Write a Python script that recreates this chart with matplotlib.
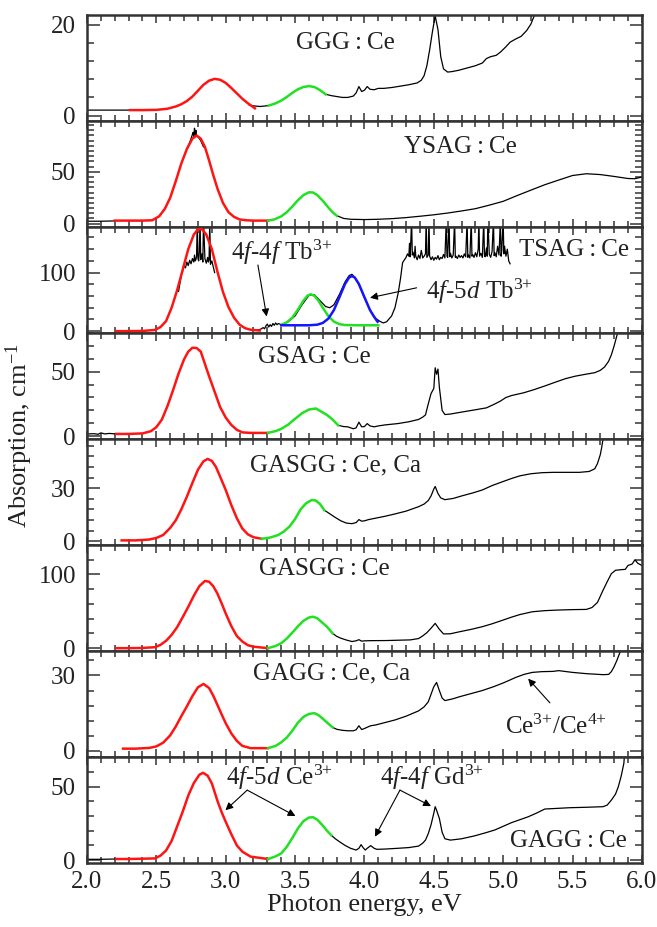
import numpy as np
import matplotlib
matplotlib.use("Agg")
import matplotlib.pyplot as plt
from matplotlib.ticker import FixedLocator, MultipleLocator

nan = np.nan

# ---- GGG:Ce ----
ggg_black_x = [2.01, 2.10, 2.20, 2.31, nan, 3.17, 3.21, 3.25, 3.31, nan,
               3.72, 3.76, 3.80, 3.84, 3.88, 3.92, 3.94, 3.96, 3.98, 4.00, 4.02, 4.04, 4.07, 4.10,
               4.14, 4.20, 4.26, 4.32, 4.38, 4.41, 4.43, 4.45, 4.47, 4.49, 4.51, 4.53, 4.55, 4.57,
               4.60, 4.63, 4.68, 4.74, 4.80, 4.85, 4.88, 4.91, 4.95, 4.98, 5.02, 5.05, 5.09, 5.13,
               5.17, 5.20, 5.23]
ggg_black_y = [1.2, 1.2, 1.2, 1.2, nan, 2.3, 2.1, 2.0, 2.2, nan,
               4.7, 4.4, 4.2, 4.0, 4.0, 4.3, 5.0, 6.4, 5.3, 5.6, 6.4, 5.8, 5.7, 6.0,
               6.0, 6.2, 6.5, 6.8, 7.2, 7.8, 8.8, 11.0, 14.5, 18.5, 22.0, 19.0, 13.0, 10.3,
               9.6, 9.7, 10.0, 10.5, 11.0, 11.6, 12.6, 13.0, 13.3, 14.0, 15.2, 16.2, 16.9, 17.5,
               18.8, 20.2, 22.5]
ggg_red_x = [2.31, 2.40, 2.50, 2.58, 2.64, 2.68, 2.72, 2.76, 2.80, 2.84, 2.88, 2.92, 2.96,
             3.00, 3.04, 3.08, 3.12, 3.16, 3.21]
ggg_red_y = [1.2, 1.2, 1.25, 1.5, 2.0, 2.5, 3.2, 4.2, 5.5, 6.8, 7.7, 8.1, 7.9,
             7.2, 6.1, 4.9, 3.7, 2.7, 1.6]
ggg_green_x = [3.31, 3.36, 3.40, 3.44, 3.48, 3.52, 3.56, 3.60, 3.64, 3.68, 3.72]
ggg_green_y = [2.2, 2.7, 3.3, 4.1, 5.0, 5.8, 6.3, 6.5, 6.3, 5.6, 4.7]

# ---- YSAG:Ce ----
ysag_black_x = [2.01, 2.10, 2.20, nan, 2.72, 2.74, 2.76, 2.765, 2.77, 2.775, 2.78, 2.785,
                2.79, 2.80, 2.82, 2.84, nan, 3.80, 3.85, 3.90, 4.00, 4.10, 4.20, 4.30, 4.40,
                4.50, 4.60, 4.70, 4.80, 4.90, 5.00, 5.10, 5.20, 5.30, 5.40, 5.50, 5.60, 5.70,
                5.80, 5.90, 5.95, 6.00]
ysag_black_y = [2.3, 2.3, 2.6, nan, 72, 78, 86, 88, 84, 92, 86, 90,
                84, 84, 80, 74, nan, 7.7, 5.0, 4.2, 3.9, 4.2, 4.8, 5.8, 7.1,
                8.5, 10.2, 12.2, 14.4, 17.8, 21.5, 27.0, 32.3, 37.5, 42.0, 46.4, 48.1, 47.3,
                45.5, 43.5, 43.3, 45.0]
ysag_red_x = [2.20, 2.30, 2.40, 2.47, 2.52, 2.56, 2.60, 2.64, 2.68, 2.72, 2.76, 2.79, 2.82,
              2.85, 2.88, 2.91, 2.94, 2.98, 3.02, 3.06, 3.10, 3.15, 3.20, 3.305]
ysag_red_y = [2.9, 2.9, 2.9, 3.2, 7, 14, 25, 41, 58, 72, 82, 85, 82,
              74, 61, 47, 34, 20, 11, 6.5, 4, 3.2, 2.9, 2.9]
ysag_green_x = [3.305, 3.35, 3.40, 3.44, 3.48, 3.52, 3.56, 3.60, 3.63, 3.66, 3.70, 3.74, 3.77, 3.80]
ysag_green_y = [2.9, 4.0, 7.0, 11.0, 16.5, 22.5, 27.5, 30.2, 30.0, 27.5, 22.0, 15.5, 11.0, 7.7]

# ---- TSAG:Ce ----
tsag_black_x = [2.66, 2.68, 2.70, 2.71, 2.72, 2.73, 2.74, 2.75, 2.76, 2.77, 2.775, 2.78,
                2.785, 2.79, 2.795, 2.80, 2.805, 2.81, 2.815, 2.82, 2.825, 2.83, 2.835, 2.84,
                2.85, 2.86, 2.87, 2.875, 2.88, 2.885, 2.89, 2.90, 2.91, 2.92, nan,
                3.18, 3.22, 3.25, 3.27, 3.28, 3.29, 3.30, 3.31, 3.32, 3.33, 3.34, 3.35, 3.36,
                3.37, 3.38, 3.40, 3.45, 3.50, 3.55, 3.60, 3.64, 3.68, 3.72, 3.75, 3.78, 3.82,
                3.86, 3.89, 3.91, 3.93, 3.96, 4.00, 4.04, 4.08, 4.11, 4.135, 4.16, 4.196, 4.22,
                4.244, 4.26, 4.275, 4.30,
                4.31, 4.32, 4.325, 4.33, 4.34, 4.345, 4.35, 4.36, 4.365, 4.37, 4.38, 4.39,
                4.40, 4.41, 4.42, 4.43, 4.44, 4.445, 4.45, 4.46, 4.465, 4.47, 4.48, 4.49,
                4.50, 4.51, 4.52, 4.53, 4.54, 4.55, 4.56, 4.57, 4.58, 4.59, 4.595, 4.60,
                4.61, 4.615, 4.62, 4.63, 4.64, 4.65, 4.655, 4.66, 4.67, 4.68, 4.69, 4.70,
                4.71, 4.72, 4.73, 4.74, 4.745, 4.75, 4.76, 4.77, 4.775, 4.78, 4.79, 4.80,
                4.81, 4.82, 4.825, 4.83, 4.84, 4.85, 4.86, 4.865, 4.87, 4.88, 4.885, 4.89,
                4.90, 4.91, 4.92, 4.93, 4.935, 4.94, 4.95, 4.96, 4.97, 4.98, 4.985, 4.99,
                5.00, 5.005, 5.01, 5.02, 5.03, 5.04, 5.05]
tsag_black_y = [68, 95, 112, 108, 118, 112, 121, 115, 124, 118, 130, 120,
                122, 128, 190, 124, 120, 135, 190, 122, 128, 132, 118, 190,
                124, 116, 126, 118, 122, 190, 114, 120, 110, 100, nan,
                2.3, 2, 3, 6, 4, 9, 12, 7, 11, 8, 13, 10, 14,
                11, 13, 11, 16, 26, 45, 61, 62, 52, 42, 40, 45, 63,
                84, 95, 97, 92, 79, 57, 36, 22, 17, 14, 16, 26, 40,
                66, 90, 117, 126,
                132, 128, 150, 127, 190, 130, 135, 125, 145, 128, 122, 130,
                124, 138, 125, 128, 132, 190, 126, 130, 190, 128, 122, 127,
                121, 126, 123, 129, 122, 126, 124, 131, 125, 190, 128, 126,
                190, 127, 133, 125, 130, 190, 126, 128, 124, 130, 126, 129,
                125, 132, 127, 190, 126, 130, 125, 190, 128, 131, 126, 134,
                127, 140, 190, 128, 133, 126, 190, 130, 127, 142, 128, 190,
                131, 126, 136, 190, 129, 134, 127, 145, 130, 190, 128, 138,
                190, 132, 145, 128, 140, 120, 115]
tsag_red_x = [2.21, 2.30, 2.40, 2.49, 2.53, 2.57, 2.61, 2.65, 2.69, 2.73, 2.77, 2.80, 2.83,
              2.86, 2.90, 2.94, 2.98, 3.02, 3.06, 3.10, 3.14, 3.18, 3.245]
tsag_red_y = [0, 0, 0.3, 2, 7, 17, 40, 70, 105, 140, 165, 174, 174,
              165, 140, 102, 67, 41, 23, 11, 5, 2.3, 1]
tsag_green_x = [3.40, 3.44, 3.48, 3.52, 3.56, 3.59, 3.614, 3.64, 3.67, 3.70, 3.74, 3.78,
                3.82, 3.86, 3.95, 4.10]
tsag_green_y = [10.5, 15, 23, 36.6, 52, 60.7, 63, 60.2, 51.5, 39.7, 25.7, 16.2,
                11.9, 10.4, 10, 10]
tsag_blue_x = [3.40, 3.50, 3.60, 3.66, 3.70, 3.74, 3.78, 3.82, 3.86, 3.89, 3.91, 3.93,
               3.96, 4.00, 4.04, 4.07, 4.095]
tsag_blue_y = [10, 10, 10, 11, 14, 21.4, 36, 58, 80.6, 91.7, 94, 91.7,
               80.6, 58, 36, 24.3, 16]

# ---- GSAG:Ce ----
gsag_black_x = [2.01, 2.05, 2.08, 2.10, 2.13, 2.16, 2.21, nan, 3.18, 3.25, 3.305, nan,
                3.81, 3.85, 3.88, 3.92, 3.94, 3.96, 3.98, 4.00, 4.02, 4.04, 4.07, 4.10,
                4.15, 4.24, 4.32, 4.39, 4.42, 4.44, 4.46, 4.48, 4.50, 4.51, 4.52, 4.53,
                4.54, 4.56, 4.58, 4.62, 4.70, 4.80, 4.88, 4.94, 4.98, 5.02, 5.06, 5.15,
                5.22, 5.30, 5.38, 5.45, 5.52, 5.59, 5.66, 5.70, 5.73, 5.76, 5.78, 5.80,
                5.82, 5.83]
gsag_black_y = [1.8, 2.0, 1.5, 2.6, 1.8, 2.2, 1.8, nan, 2.6, 2.6, 2.6, nan,
                8.5, 7.5, 7.3, 5.8, 6.5, 10.9, 7.3, 7.5, 9.8, 8.0, 7.3, 8.0,
                8.8, 9.8, 11.2, 13.0, 14.8, 16.5, 25, 33, 37, 53, 48, 52,
                38, 20, 16.8, 17.2, 18.7, 20.5, 22, 25, 27.2, 30, 31.5, 33.7,
                36, 38.9, 42, 44.6, 46.5, 47.9, 49.2, 51, 53.5, 58, 63, 70,
                78, 82]
gsag_red_x = [2.21, 2.30, 2.40, 2.46, 2.50, 2.54, 2.58, 2.62, 2.66, 2.70, 2.73, 2.76, 2.79,
              2.82, 2.85, 2.88, 2.92, 2.96, 3.00, 3.04, 3.08, 3.12, 3.18, 3.305]
gsag_red_y = [1.8, 1.8, 2.2, 3.9, 7, 13, 23.3, 35.5, 48.5, 59.6, 65.5, 68.5, 68.3,
              65.5, 56, 46.5, 34.5, 22.5, 14.5, 8.8, 5, 3, 2.6, 2.6]
gsag_green_x = [3.305, 3.36, 3.40, 3.45, 3.50, 3.55, 3.60, 3.65, 3.69, 3.73, 3.77, 3.81]
gsag_green_y = [2.6, 4.0, 5.7, 9.0, 13.5, 17.8, 20.7, 21.5, 19.0, 16.5, 13, 8.5]

# ---- GASGG:Ce,Ca ----
gcca_black_x = [3.71, 3.75, 3.79, 3.83, 3.87, 3.91, 3.94, 3.96, 3.98, 4.00, 4.03, 4.08,
                4.15, 4.22, 4.30, 4.39, 4.43, 4.46, 4.48, 4.50, 4.51, 4.53, 4.55, 4.58,
                4.64, 4.70, 4.78, 4.85, 4.92, 5.00, 5.06, 5.12, 5.20, 5.28, 5.36, 5.45,
                5.55, 5.62, 5.66, 5.68, 5.70, 5.71, 5.72]
gcca_black_y = [17.6, 15.5, 13.4, 11.5, 10.2, 9.9, 10.5, 12.2, 11.3, 11.5, 12.2, 13,
                14.1, 15.4, 17, 19.5, 21, 23, 25.6, 29.5, 31, 27, 24.5, 23.5,
                24.2, 25.6, 27.3, 29, 31.5, 33.8, 35.5, 37, 38.2, 38.8, 39, 39,
                39, 39.5, 41, 44, 49, 53, 58]
gcca_red_x = [2.25, 2.35, 2.45, 2.50, 2.55, 2.60, 2.64, 2.68, 2.72, 2.76, 2.80, 2.84, 2.87,
              2.90, 2.93, 2.96, 3.00, 3.04, 3.08, 3.12, 3.16, 3.20, 3.26]
gcca_red_y = [0.4, 0.4, 0.9, 1.8, 3.5, 7.5, 11.8, 18, 25.2, 33, 40.5, 45.3, 46.6,
              45.5, 42, 36.5, 29, 20.5, 13, 7.1, 3.8, 2.2, 1.3]
gcca_green_x = [3.26, 3.32, 3.38, 3.42, 3.46, 3.50, 3.54, 3.58, 3.62, 3.65, 3.68, 3.71]
gcca_green_y = [1.3, 2.0, 3.5, 5.5, 8.3, 12.5, 18, 21.5, 23.3, 23, 21, 17.6]

# ---- GASGG:Ce ----
gce_black_x = [3.77, 3.80, 3.83, 3.87, 3.91, 3.94, 3.96, 3.98, 4.00, 4.05, 4.15, 4.25,
               4.33, 4.39, 4.42, 4.45, 4.48, 4.51, 4.54, 4.57, 4.62, 4.69, 4.77, 4.85,
               4.92, 5.00, 5.06, 5.12, 5.21, 5.30, 5.39, 5.50, 5.60, 5.64, 5.68, 5.72,
               5.75, 5.78, 5.81, 5.85, 5.88, 5.90, 5.93, 5.95, 5.97, 6.00]
gce_black_y = [20.2, 16, 13.5, 11, 9, 10, 11.5, 9.5, 9.9, 10.2, 10.3, 10.8,
               11.2, 13, 16.6, 21, 27, 33.6, 25.6, 19.3, 19.5, 22.4, 25.5, 29.1,
               33, 38.1, 42, 45.5, 49.3, 50.8, 51.6, 52.2, 52.5, 55, 62, 78.5,
               90, 100.9, 105.5, 106.3, 106.7, 112, 114, 119.7, 115, 112]
gce_red_x = [2.21, 2.30, 2.40, 2.49, 2.53, 2.57, 2.61, 2.65, 2.69, 2.73, 2.77, 2.81, 2.85,
             2.88, 2.91, 2.94, 2.97, 3.00, 3.04, 3.08, 3.12, 3.16, 3.20, 3.305]
gce_red_y = [0, 0, 0.3, 1.3, 4.5, 10, 18, 28.5, 42, 56, 71, 84, 91,
             90, 84, 74, 61, 47, 30, 16.5, 9, 4, 2, 0]
gce_green_x = [3.305, 3.36, 3.40, 3.44, 3.48, 3.52, 3.56, 3.60, 3.63, 3.66, 3.70, 3.73, 3.77]
gce_green_y = [0, 3, 6.7, 13, 21, 29.5, 37, 41.5, 42.6, 40.5, 34, 29, 20.2]

# ---- GAGG:Ce,Ca ----
gaca_black_x = [3.77, 3.80, 3.84, 3.88, 3.92, 3.94, 3.96, 3.98, 4.00, 4.02, 4.045, 4.08,
                4.15, 4.22, 4.30, 4.39, 4.43, 4.46, 4.48, 4.50, 4.52, 4.54, 4.56, 4.58,
                4.63, 4.69, 4.77, 4.85, 4.93, 5.00, 5.05, 5.09, 5.15, 5.21, 5.28, 5.36,
                5.40, 5.50, 5.60, 5.66, 5.72, 5.76, 5.78, 5.80, 5.82, 5.84, 5.86]
gaca_black_y = [9.4, 8.6, 8.2, 8, 8, 8.4, 10, 8.5, 8.9, 9.4, 10, 10.3,
                11.3, 12.3, 13.8, 15.9, 17.5, 19.5, 22.5, 25.5, 27.2, 24, 21, 20,
                20.6, 21.6, 22.8, 24, 25.5, 27, 28.2, 29.2, 30.4, 31.2, 31.5, 31.6,
                31.9, 31.2, 30.7, 30.5, 30.3, 30.4, 31.5, 33.5, 36, 38.9, 41]
gaca_red_x = [2.26, 2.35, 2.45, 2.50, 2.55, 2.60, 2.64, 2.68, 2.72, 2.76, 2.80, 2.84, 2.88,
              2.91, 2.94, 2.97, 3.00, 3.04, 3.08, 3.12, 3.18, 3.305]
gaca_red_y = [0.9, 0.9, 1.2, 1.8, 3.3, 6.2, 9.7, 13.8, 17.7, 21.8, 25.3, 26.6, 25,
              22, 18.3, 14.6, 11, 7, 4, 2, 1.1, 1.1]
gaca_green_x = [3.305, 3.36, 3.40, 3.44, 3.48, 3.52, 3.56, 3.60, 3.64, 3.67, 3.70, 3.74, 3.77]
gaca_green_y = [1.1, 2.0, 3.4, 5.3, 8, 11.2, 13.5, 14.7, 15, 14.2, 12.8, 10.8, 9.4]

# ---- GAGG:Ce ----
gagg_black_x = [2.01, 2.10, 2.21, nan, 3.76, 3.79, 3.82, 3.86, 3.90, 3.94, 3.96, 3.976,
                3.99, 4.006, 4.02, 4.045, 4.07, 4.09, 4.15, 4.24, 4.32, 4.39, 4.42, 4.44,
                4.46, 4.48, 4.50, 4.51, 4.52, 4.54, 4.56, 4.58, 4.62, 4.70, 4.79, 4.87,
                4.94, 5.00, 5.06, 5.12, 5.18, 5.24, 5.30, 5.40, 5.48, 5.60, 5.72, 5.75,
                5.78, 5.81, 5.83, 5.85, 5.86, 5.87, 5.875]
gagg_black_y = [0.5, 0.5, 0.7, nan, 17, 14.5, 12.5, 10, 8, 6.8, 8, 10.5,
                8.5, 6.8, 8, 9.8, 8, 7.3, 7.5, 8, 8.5, 9.5, 11.5, 13.6,
                18, 24, 32, 36.4, 34, 28.4, 19, 14.5, 13.6, 14.5, 16.4, 18.5,
                20.5, 23, 25.5, 27.5, 29.5, 32, 34.8, 35.3, 35.7, 36, 36.4, 37.5,
                40.9, 45, 50, 57, 61.4, 66, 72]
gagg_red_x = [2.21, 2.30, 2.40, 2.49, 2.53, 2.57, 2.61, 2.65, 2.69, 2.73, 2.77, 2.81, 2.837,
              2.87, 2.90, 2.94, 2.97, 3.00, 3.04, 3.08, 3.12, 3.18, 3.305]
gagg_red_y = [0.7, 0.7, 0.9, 1.1, 3, 6.5, 13, 23, 33, 44, 52.5, 58.2, 59.5,
              57.5, 52.3, 40.5, 32.8, 26.1, 17.7, 10, 5.7, 2.3, 0.7]
gagg_green_x = [3.305, 3.36, 3.40, 3.44, 3.48, 3.52, 3.56, 3.60, 3.63, 3.66, 3.70, 3.73, 3.76]
gagg_green_y = [0.7, 2.5, 4.5, 9, 15, 21.5, 26.5, 29, 29.2, 27.5, 23.5, 20, 17]

sample_names = ["GGG\u2009:\u2009Ce", "YSAG\u2009:\u2009Ce", "TSAG\u2009:\u2009Ce",
                "GSAG\u2009:\u2009Ce", "GASGG\u2009:\u2009Ce, Ca", "GASGG\u2009:\u2009Ce",
                "GAGG\u2009:\u2009Ce, Ca", "GAGG\u2009:\u2009Ce"]
name_x = [3.865, 4.69, 5.51, 3.64, 3.79, 3.71, 3.76, 5.47]
name_y = [16.1, 73.5, 139, 61, 42.8, 106.7, 30.7, 13]
y_limits = [(-1.2, 22.2), (-3.2, 99), (-3, 178), (-2, 80),
            (-2.1, 58), (-3.5, 140), (-2.3, 39.8), (-1.8, 70.5)]
y_labels = [20, 50, 100, 50, 30, 100, 30, 50]
y_minor = [4, 5, 20, 10, 6, 20, 6, 10]
x_ticks = [2.0, 2.5, 3.0, 3.5, 4.0, 4.5, 5.0, 5.5, 6.0]

panels = [
    (ggg_black_x, ggg_black_y, ggg_red_x, ggg_red_y, ggg_green_x, ggg_green_y),
    (ysag_black_x, ysag_black_y, ysag_red_x, ysag_red_y, ysag_green_x, ysag_green_y),
    (tsag_black_x, tsag_black_y, tsag_red_x, tsag_red_y, tsag_green_x, tsag_green_y),
    (gsag_black_x, gsag_black_y, gsag_red_x, gsag_red_y, gsag_green_x, gsag_green_y),
    (gcca_black_x, gcca_black_y, gcca_red_x, gcca_red_y, gcca_green_x, gcca_green_y),
    (gce_black_x, gce_black_y, gce_red_x, gce_red_y, gce_green_x, gce_green_y),
    (gaca_black_x, gaca_black_y, gaca_red_x, gaca_red_y, gaca_green_x, gaca_green_y),
    (gagg_black_x, gagg_black_y, gagg_red_x, gagg_red_y, gagg_green_x, gagg_green_y),
]

plt.rcParams["font.family"] = ["Liberation Serif", "DejaVu Serif"]
plt.rcParams["mathtext.fontset"] = "custom"
plt.rcParams["mathtext.rm"] = "Liberation Serif"
plt.rcParams["mathtext.it"] = "Liberation Serif:italic"

TXT = "#222222"
AX = "#333333"
RED = "#ff1414"
GREEN = "#22e022"
BLUE = "#1515ff"
FS = 18

fig, axes = plt.subplots(8, 1, sharex=True, figsize=(6.57, 9.27), dpi=100)
fig.subplots_adjust(left=0.1324, right=0.977, bottom=0.0694, top=0.9838, hspace=0)

for i, ax in enumerate(axes):
    bx, by, rx, ry, gx, gy = panels[i]
    assert len(bx) == len(by) and len(rx) == len(ry) and len(gx) == len(gy), i
    ax.plot(bx, by, color="black", lw=0.9, zorder=2)
    ax.plot(rx, ry, color=RED, lw=1.8, zorder=3)
    ax.plot(gx, gy, color=GREEN, lw=1.8, zorder=3)
    ax.set_ylim(*y_limits[i])
    ax.set_xlim(2.0, 6.0)
    ax.yaxis.set_major_locator(FixedLocator([0, y_labels[i]]))
    ax.yaxis.set_minor_locator(MultipleLocator(y_minor[i]))
    ax.xaxis.set_major_locator(FixedLocator(x_ticks))
    ax.xaxis.set_minor_locator(MultipleLocator(0.1))
    ax.tick_params(which="both", direction="in", top=True, right=True,
                   color=AX, labelcolor=TXT, labelsize=18, width=1.1)
    ax.tick_params(axis="y", which="major", length=9, pad=8)
    ax.tick_params(axis="y", which="minor", length=5)
    ax.tick_params(axis="x", which="major", length=6, pad=6)
    ax.tick_params(axis="x", which="minor", length=4)
    for s in ax.spines.values():
        s.set_color(AX)
        s.set_linewidth(1.8)
    ax.text(name_x[i], name_y[i], sample_names[i], ha="center", va="center",
            fontsize=FS, color=TXT)

assert len(tsag_blue_x) == len(tsag_blue_y)
axes[2].plot(tsag_blue_x, tsag_blue_y, color=BLUE, lw=1.8, zorder=3)

axes[-1].set_xticklabels([f"{v:.1f}" for v in x_ticks])
axes[-1].set_xlabel("Photon energy, eV", fontsize=19, color=TXT, labelpad=1)
fig.text(0.030, 1 - 436 / 927, "Absorption, cm$^{-1}$", rotation=90,
         ha="center", va="center", fontsize=19, color=TXT)

arrow = dict(arrowstyle="-|>", color="black", lw=0.8, mutation_scale=11,
             shrinkA=0, shrinkB=0)

# TSAG annotations
axes[2].text(3.40, 134, "4$f$-4$f$ Tb$^{3{+}}$", ha="center", va="center", fontsize=FS, color=TXT)
axes[2].annotate("", xy=(3.295, 25), xytext=(3.232, 113), arrowprops=arrow)
axes[2].text(4.83, 68.6, "4$f$-5$d$ Tb$^{3{+}}$", ha="center", va="center", fontsize=FS, color=TXT)
axes[2].annotate("", xy=(4.04, 57), xytext=(4.376, 74), arrowprops=arrow)

# GAGG:Ce,Ca annotation
axes[6].text(5.38, 9.6, "Ce$^{3{+}}$/Ce$^{4{+}}$", ha="center", va="center", fontsize=FS, color=TXT)
axes[6].annotate("", xy=(5.18, 28.7), xytext=(5.337, 19.1), arrowprops=arrow)

# GAGG:Ce annotations
axes[7].text(3.39, 56.6, "4$f$-5$d$ Ce$^{3{+}}$", ha="center", va="center", fontsize=FS, color=TXT)
axes[7].annotate("", xy=(2.998, 34), xytext=(3.155, 47.7), arrowprops=arrow)
axes[7].annotate("", xy=(3.503, 30), xytext=(3.155, 47.7), arrowprops=arrow)
axes[7].text(4.486, 56.6, "4$f$-4$f$ Gd$^{3{+}}$", ha="center", va="center", fontsize=FS, color=TXT)
axes[7].annotate("", xy=(4.076, 15.9), xytext=(4.256, 47.7), arrowprops=arrow)
axes[7].annotate("", xy=(4.48, 36.8), xytext=(4.256, 47.7), arrowprops=arrow)

fig.savefig("out.png", dpi=100)
